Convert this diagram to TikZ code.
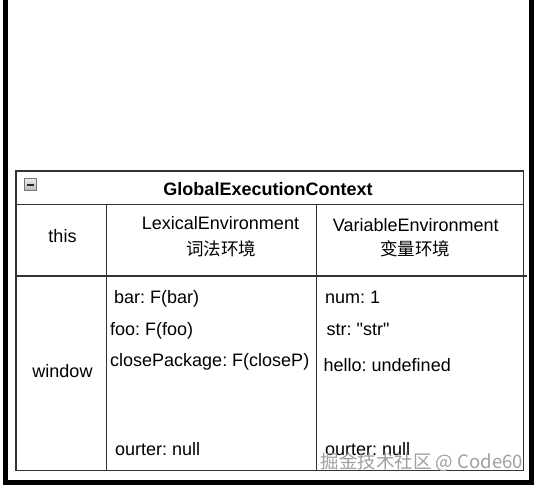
\documentclass[tikz,border=0pt]{standalone}
\usepackage{fontspec}
\setmainfont{Liberation Sans}
\newfontfamily\cjk{Noto Sans CJK SC}
\frenchspacing
\newcommand\straightdq{\XeTeXglyph\XeTeXglyphindex "quotedbl" \relax}
\definecolor{gridc}{RGB}{51,51,51}
\definecolor{iconborder}{RGB}{120,120,120}
\definecolor{icontop}{RGB}{235,235,235}
\definecolor{iconbot}{RGB}{185,185,185}
\definecolor{icondash}{RGB}{40,40,40}
\definecolor{wmc}{RGB}{160,160,160}
\begin{document}
\begin{tikzpicture}[x=1pt,y=-1pt,
  frameline/.style={line width=5pt,black},
  gridline/.style={line width=1.4pt,draw=gridc},
  txt/.style={inner sep=0pt,font=\fontsize{18}{21}\selectfont,text=black},
  cjktxt/.style={inner sep=0pt,font=\cjk\fontsize{17.5}{21}\selectfont,text=black},
  wm/.style={inner sep=0pt,font=\cjk\fontsize{18.5}{21}\selectfont,text=wmc}]
\useasboundingbox (0,0) rectangle (538,488);
\fill[white] (0,0) rectangle (538,488);
% outer thick frame
\draw[frameline] (5.8,-5) -- (5.8,482.5) -- (531.7,482.5) -- (531.7,-5);
% table
\coordinate (tl) at (16,171);
\coordinate (br) at (523.5,470.5);
\draw[gridline] (tl) rectangle (br);
\draw[gridline] (16,204.5) -- (523.5,204.5);
\draw[gridline] (16,276) -- (527,276);
\draw[gridline] (106.5,204.5) -- (106.5,470.5);
\draw[gridline] (316.5,204.5) -- (316.5,470.5);
% collapse icon
\node[draw=iconborder,line width=0.8pt,top color=icontop,bottom color=iconbot,
      minimum width=12pt,minimum height=12pt,inner sep=0pt] (icon) at (30,184.5) {};
\draw[line width=2pt,icondash] ([xshift=-3.5pt]icon.center) -- ([xshift=3.5pt]icon.center);
% header
\node[txt,font=\fontsize{18}{21}\selectfont\bfseries,anchor=base] (title) at (268,195) {GlobalExecutionContext};
\node[txt,anchor=base] (this) at (62.5,242) {this};
\node[txt,anchor=base] (lex) at (220.5,229) {LexicalEnvironment};
\node[cjktxt,anchor=base] (lexcn) at (221,255.5) {词法环境};
\node[txt,anchor=base] (var) at (415.8,231) {VariableEnvironment};
\node[cjktxt,anchor=base] (varcn) at (415,255.5) {变量环境};
% body
\node[txt,anchor=base] (window) at (62.5,377) {window};
\node[txt,anchor=base west] (bar) at (114,303) {bar: F(bar)};
\node[txt,anchor=base west] (foo) at (110,335) {foo: F(foo)};
\node[txt,anchor=base west] (close) at (110,366.5) {closePackage: F(closeP)};
\node[txt,anchor=base west] (outl) at (115,455) {ourter: null};
\node[txt,anchor=base west] (num) at (325,303) {num: 1};
\node[txt,anchor=base west] (str) at (326.5,335.5) {str: \straightdq str\straightdq};
\node[txt,anchor=base west] (hello) at (323.5,371.5) {hello: undefined};
\node[txt,anchor=base west] (outr) at (325,455) {ourter: null};
% watermark
\node[wm,anchor=base east] (mark) at (523,468) {掘金技术社区 @ Code60};
\end{tikzpicture}
\end{document}
